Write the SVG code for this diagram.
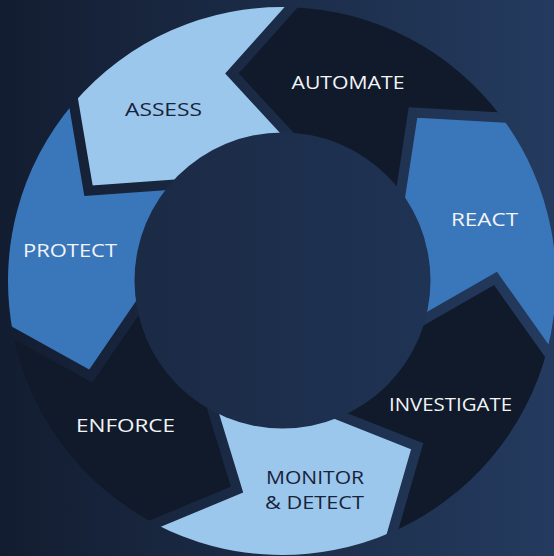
<svg xmlns="http://www.w3.org/2000/svg" width="554" height="556" viewBox="0 0 554 556">
  <defs>
    <linearGradient id="bg" gradientUnits="userSpaceOnUse" x1="0" y1="0" x2="554" y2="0">
      <stop offset="0" stop-color="#131d31"/>
      <stop offset="1" stop-color="#243b5f"/>
    </linearGradient>
    <linearGradient id="hub" gradientUnits="userSpaceOnUse" x1="134" y1="0" x2="431" y2="0">
      <stop offset="0" stop-color="#1b2a45"/>
      <stop offset="1" stop-color="#1f3354"/>
    </linearGradient>
    <style>
      .light { fill: #9cc7ec; }
      .mid { fill: #3a76ba; }
      .dark { fill: #101a2a; }
      .sep { fill: none; stroke: url(#bg); stroke-width: 10; stroke-linejoin: miter; stroke-miterlimit: 10; }
      text { font-family: "Open Sans", "Liberation Sans", sans-serif; font-size: 19px; font-weight: 400; text-anchor: middle; }
      .tl { fill: #f2f4f7; }
      .td { fill: #17233a; }
    </style>
  </defs>
  <rect x="0" y="0" width="554" height="556" fill="url(#bg)"/>

  <g id="assess">
    <path class="light" d="M 73.65 103.05 A 274 274 0 0 1 291.22 7.15 L 231.90 73.46 L 298.00 145.00 L 185.65 183.70 L 88.50 190.77 Z"/>
    <text class="td" x="163.5" y="116" textLength="77" lengthAdjust="spacingAndGlyphs">ASSESS</text>
  </g>
  <g id="automate">
    <path class="dark" d="M 291.22 7.15 A 274 274 0 0 1 501.84 117.47 L 413.02 112.44 L 398.30 208.72 L 298.00 145.00 L 231.90 73.46 Z"/>
    <text class="tl" x="348" y="89" textLength="113" lengthAdjust="spacingAndGlyphs">AUTOMATE</text>
  </g>
  <g id="react">
    <path class="mid" d="M 501.84 117.47 A 274 274 0 0 1 546.92 350.92 L 495.48 278.34 L 411.02 326.86 L 398.30 208.72 L 413.02 112.44 Z"/>
    <text class="tl" x="484.5" y="226" textLength="67" lengthAdjust="spacingAndGlyphs">REACT</text>
  </g>
  <g id="investigate">
    <path class="dark" d="M 546.92 350.92 A 274 274 0 0 1 392.51 531.72 L 417.18 446.25 L 326.59 410.47 L 411.02 326.86 L 495.48 278.34 Z"/>
    <text class="tl" x="450.5" y="411" textLength="123" lengthAdjust="spacingAndGlyphs">INVESTIGATE</text>
  </g>
  <g id="monitor">
    <path class="light" d="M 392.51 531.72 A 274 274 0 0 1 154.88 523.72 L 237.09 489.72 L 208.59 396.58 L 326.59 410.47 L 417.18 446.25 Z"/>
    <text class="td" x="315" y="484" textLength="98" lengthAdjust="spacingAndGlyphs">MONITOR</text>
    <text class="td" x="314.5" y="509" textLength="99" lengthAdjust="spacingAndGlyphs">&amp; DETECT</text>
  </g>
  <g id="enforce">
    <path class="dark" d="M 154.88 523.72 A 274 274 0 0 1 12.97 332.94 L 90.82 376.02 L 145.85 295.67 L 208.59 396.58 L 237.09 489.72 Z"/>
    <text class="tl" x="125.5" y="432" textLength="99" lengthAdjust="spacingAndGlyphs">ENFORCE</text>
  </g>
  <g id="protect">
    <path class="mid" d="M 12.97 332.94 A 274 274 0 0 1 73.65 103.05 L 88.50 190.77 L 185.65 183.70 L 145.85 295.67 L 90.82 376.02 Z"/>
    <text class="tl" x="70" y="257" textLength="94" lengthAdjust="spacingAndGlyphs">PROTECT</text>
  </g>

  <g id="connectors">
    <polyline class="sep" points="70.68,85.51 88.50,190.77 185.65,183.70"/>
    <polyline class="sep" points="303.08,-6.11 231.90,73.46 298.00,145.00"/>
    <polyline class="sep" points="519.60,118.48 413.02,112.44 398.30,208.72"/>
    <polyline class="sep" points="557.21,365.44 495.48,278.34 411.02,326.86"/>
    <polyline class="sep" points="387.58,548.81 417.18,446.25 326.59,410.47"/>
    <polyline class="sep" points="138.44,530.52 237.09,489.72 208.59,396.58"/>
    <polyline class="sep" points="-2.60,324.32 90.82,376.02 145.85,295.67"/>
  </g>

  <g id="hub">
    <circle cx="282.5" cy="280.5" r="148" fill="url(#hub)"/>
  </g>
</svg>
